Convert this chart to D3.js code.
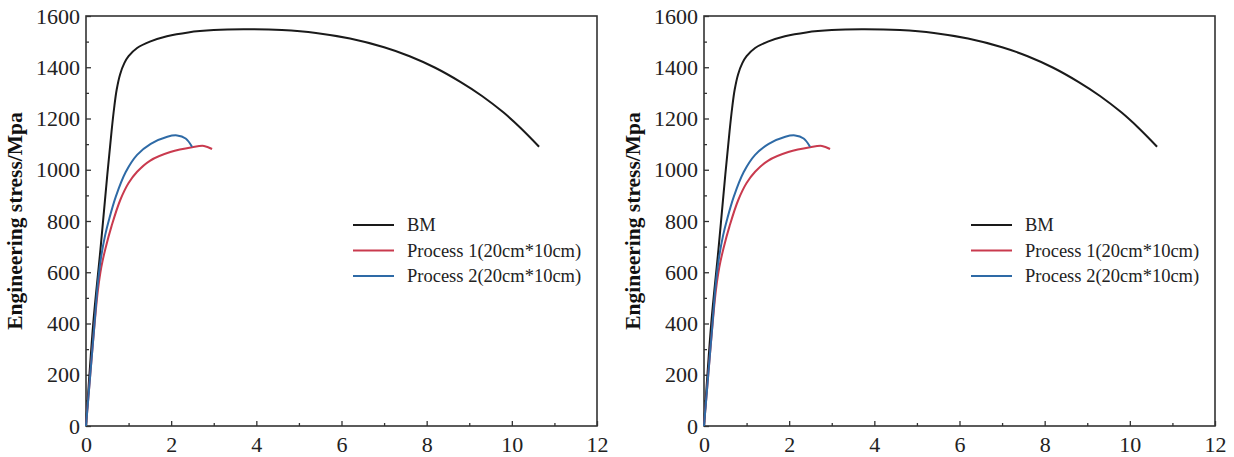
<!DOCTYPE html>
<html>
<head>
<meta charset="utf-8">
<script src="https://cdn.jsdelivr.net/npm/d3@7/dist/d3.min.js"></script>
<style>
  html, body { margin: 0; padding: 0; background: #fff; }
  svg { display: block; }
</style>
</head>
<body>
<svg id="chart" width="1234" height="457"></svg>
<script>
// ---------- data ----------
const seriesNames = ["BM", "Process 1(20cm*10cm)", "Process 2(20cm*10cm)"];
const seriesColors = ["#1a1a1a", "#c93a4e", "#2e6aa6"];

const bmStrain = [0, 0.17, 0.34, 0.5, 0.6, 0.66, 0.72, 0.8, 0.9, 1.0, 1.2, 1.5, 1.9, 2.4, 3.0, 3.7, 4.6, 5.4, 6.2, 7.0, 7.6, 8.2, 8.8, 9.3, 9.8, 10.2, 10.64];
const bmStress = [0, 400, 690, 980, 1150, 1240, 1312, 1372, 1416, 1443, 1475, 1500, 1521, 1536, 1545, 1548, 1545, 1534, 1512, 1478, 1443, 1398, 1342, 1288, 1224, 1164, 1090];

const p1Strain = [0, 0.1, 0.2, 0.28, 0.36, 0.46, 0.6, 0.8, 1.0, 1.2, 1.5, 1.98, 2.49, 2.77, 2.96];
const p1Stress = [0, 200, 395, 530, 620, 695, 780, 880, 948, 992, 1035, 1069, 1088, 1093, 1081];

const p2Strain = [0, 0.1, 0.2, 0.28, 0.36, 0.45, 0.54, 0.70, 0.93, 1.2, 1.52, 1.91, 2.14, 2.34, 2.49];
const p2Stress = [0, 200, 400, 560, 665, 745, 805, 895, 990, 1058, 1101, 1129, 1134, 1122, 1090];

const xTicks = [0, 2, 4, 6, 8, 10, 12];
const xMinorTicks = [1, 3, 5, 7, 9, 11];
const yTicks = [0, 200, 400, 600, 800, 1000, 1200, 1400, 1600];
const yMinorTicks = [100, 300, 500, 700, 900, 1100, 1300, 1500];
const yLabel = "Engineering stress/Mpa";

const series = [
  { name: seriesNames[0], color: seriesColors[0], pts: bmStrain.map((x, i) => [x, bmStress[i]]) },
  { name: seriesNames[1], color: seriesColors[1], pts: p1Strain.map((x, i) => [x, p1Stress[i]]) },
  { name: seriesNames[2], color: seriesColors[2], pts: p2Strain.map((x, i) => [x, p2Stress[i]]) }
];

// ---------- drawing ----------
const svg = d3.select("#chart");
const serif = "'Liberation Serif', 'Times New Roman', serif";

function drawPanel(ox) {
  const left = ox, right = ox + 511, top = 16, bottom = 426;
  const x = d3.scaleLinear().domain([0, 12]).range([left, right]);
  const y = d3.scaleLinear().domain([0, 1600]).range([bottom, top]);
  const g = svg.append("g");

  // bottom axis: major ticks inward
  const xAxis = d3.axisBottom(x).tickValues(xTicks).tickSize(-5).tickPadding(10).tickFormat(d3.format("d"));
  const gx = g.append("g").attr("transform", `translate(0,${bottom})`).call(xAxis);
  gx.select(".domain").remove();
  gx.selectAll("line").attr("stroke", "#333").attr("stroke-width", 1.3);
  gx.selectAll("text").attr("font-family", serif).attr("font-size", 22).attr("fill", "#222");
  const gxm = g.append("g").attr("transform", `translate(0,${bottom})`)
    .call(d3.axisBottom(x).tickValues(xMinorTicks).tickSize(-3).tickFormat(""));
  gxm.select(".domain").remove();
  gxm.selectAll("line").attr("stroke", "#333").attr("stroke-width", 1.3);

  // left axis
  const yAxis = d3.axisLeft(y).tickValues(yTicks).tickSize(-5).tickPadding(6).tickFormat(d3.format("d"));
  const gy = g.append("g").attr("transform", `translate(${left},0)`).call(yAxis);
  gy.select(".domain").remove();
  gy.selectAll("line").attr("stroke", "#333").attr("stroke-width", 1.3);
  gy.selectAll("text").attr("font-family", serif).attr("font-size", 22).attr("fill", "#222");
  const gym = g.append("g").attr("transform", `translate(${left},0)`)
    .call(d3.axisLeft(y).tickValues(yMinorTicks).tickSize(-3).tickFormat(""));
  gym.select(".domain").remove();
  gym.selectAll("line").attr("stroke", "#333").attr("stroke-width", 1.3);

  // frame
  g.append("rect").attr("x", left).attr("y", top).attr("width", right - left).attr("height", bottom - top)
    .attr("fill", "none").attr("stroke", "#333").attr("stroke-width", 1.6);

  // y label
  g.append("text")
    .attr("transform", `translate(${left - 64},${(top + bottom) / 2}) rotate(-90)`)
    .attr("text-anchor", "middle")
    .attr("font-family", serif).attr("font-weight", "bold").attr("font-size", 21.5)
    .attr("fill", "#111")
    .text(yLabel);

  // curves
  const line = d3.line().x(d => x(d[0])).y(d => y(d[1])).curve(d3.curveCatmullRom.alpha(0.5));
  g.selectAll("path.curve").data(series).enter().append("path")
    .attr("class", "curve")
    .attr("d", d => line(d.pts))
    .attr("fill", "none")
    .attr("stroke", d => d.color)
    .attr("stroke-width", 2);

  // legend
  const lg = g.append("g");
  series.forEach((s, i) => {
    const ly = 225 + i * 25.5;
    lg.append("line").attr("x1", left + 267).attr("x2", left + 308).attr("y1", ly).attr("y2", ly)
      .attr("stroke", s.color).attr("stroke-width", 2);
    lg.append("text").attr("x", left + 321).attr("y", ly).attr("dy", "0.35em")
      .attr("font-family", serif).attr("font-size", 18.5).attr("fill", "#222")
      .text(s.name);
  });
}

drawPanel(86);
drawPanel(704);
</script>
</body>
</html>
